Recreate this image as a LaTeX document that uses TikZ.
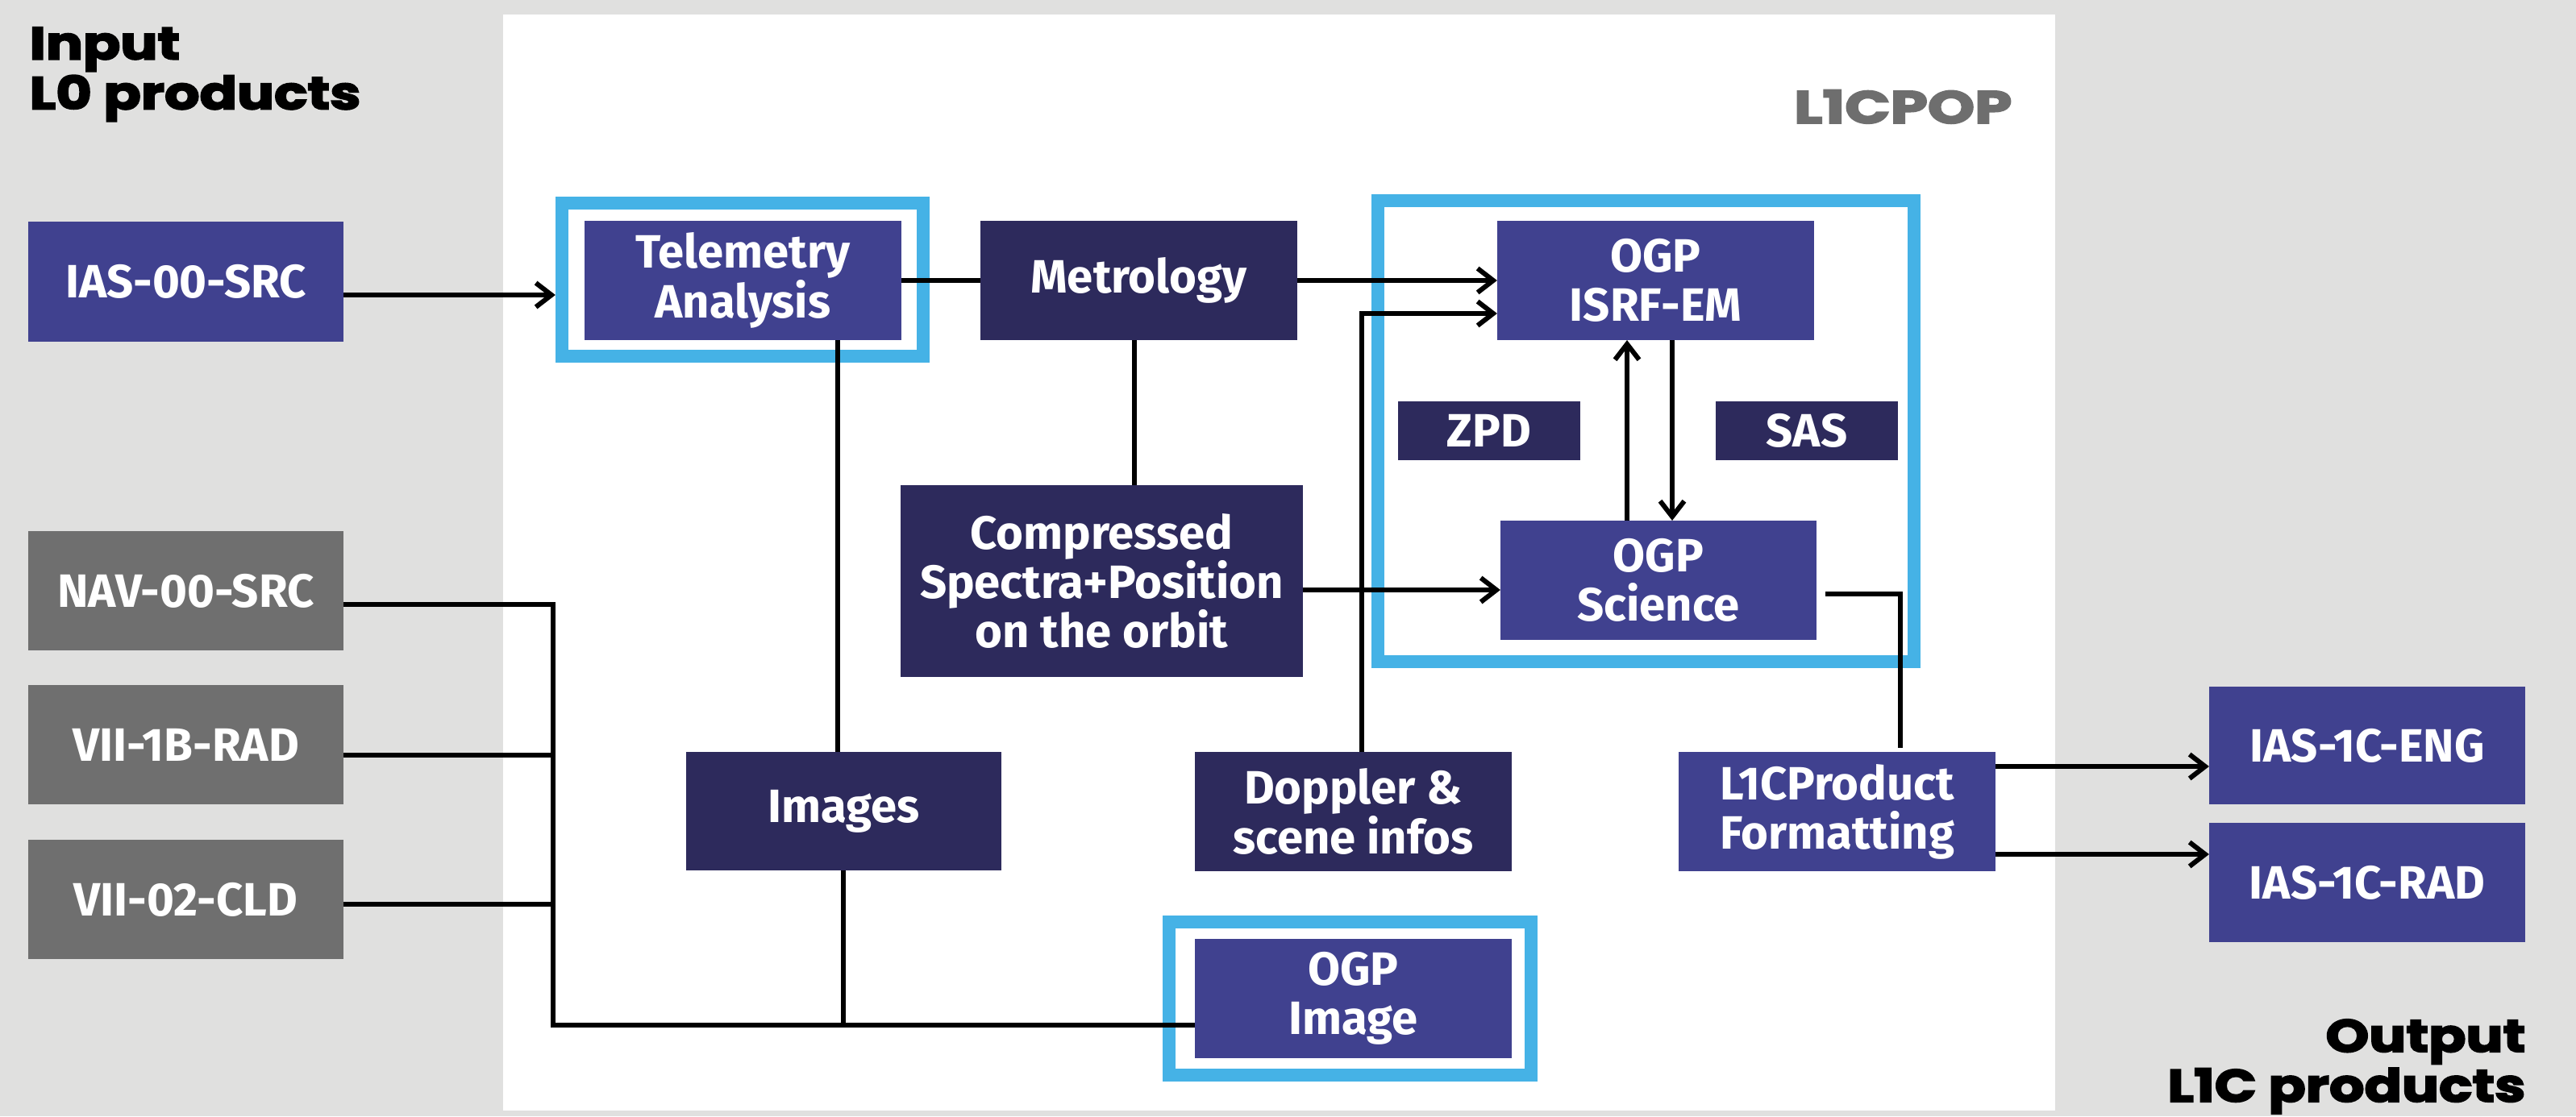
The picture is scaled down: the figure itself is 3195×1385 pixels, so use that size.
\documentclass[tikz,border=0pt]{standalone}
\usepackage{fontspec}
\setmainfont{Fira Sans}
\newfontfamily\headfont{Poppins}[BoldFeatures={FakeBold=3}]
\usetikzlibrary{arrows.meta}
\definecolor{bgg}{RGB}{224,224,223}
\definecolor{pur}{RGB}{64,65,143}
\definecolor{navy}{RGB}{45,42,92}
\definecolor{gbox}{RGB}{111,111,111}
\definecolor{cy}{RGB}{69,178,230}
\definecolor{ttl}{RGB}{110,110,110}
\tikzset{
  boxbase/.style={inner sep=0pt, outer sep=0pt, text=white, align=center,
    font=\fontsize{16.5}{17.4}\selectfont\bfseries},
  pbox/.style={boxbase, fill=pur},
  nbox/.style={boxbase, fill=navy},
  gbx/.style={boxbase, fill=gbox},
  frame/.style={draw=cy, line width=0.16cm, inner sep=0pt},
  conn/.style={line width=0.06cm, black},
  arr/.style={conn, -{Straight Barb[length=5.5pt,width=8.5pt]}},
  head/.style={inner sep=0pt, font=\headfont\fontsize{16.2}{17.6}\selectfont\bfseries},
}
\begin{document}
\begin{tikzpicture}[x=0.01cm, y=-0.01cm]
\fill[bgg] (0,0) rectangle (3195,1385);
\useasboundingbox (0,0) rectangle (3195,1385);
\fill[white] (624,18) rectangle (2549,1378);

% headings
\node[head, anchor=north west, align=left] (intitle) at (36,33) {\scalebox{1.2}[1]{Input}\\\scalebox{1.2}[1]{L0 products}};
\node[head, anchor=north east, align=right] (outtitle) at (3133,1264) {\scalebox{1.2}[1]{Output}\\\scalebox{1.2}[1]{L1C products}};
\node[head, anchor=base east, text=ttl] (l1cpop) at (2496,153) {\scalebox{1.3}[1]{L1CPOP}};

% frames
\node[frame, minimum width=4.48cm, minimum height=1.90cm] (telframe) at (921,347) {};
\node[frame, minimum width=6.65cm, minimum height=5.72cm] (bigframe) at (2041.5,535) {};
\node[frame, minimum width=4.49cm, minimum height=1.90cm] (imgframe) at (1674.5,1239) {};

% boxes
\node[pbox, minimum width=3.91cm, minimum height=1.49cm] (ias) at (230.5,349.5) {IAS-00-SRC};
\node[gbx, minimum width=3.91cm, minimum height=1.48cm] (nav) at (230.5,733) {NAV-00-SRC};
\node[gbx, minimum width=3.91cm, minimum height=1.48cm] (rad) at (230.5,924) {VII-1B-RAD};
\node[gbx, minimum width=3.91cm, minimum height=1.48cm] (cld) at (230.5,1116) {VII-02-CLD};
\node[pbox, minimum width=3.93cm, minimum height=1.48cm] (tele) at (921.5,348) {Telemetry\\Analysis};
\node[nbox, minimum width=3.93cm, minimum height=1.48cm] (metro) at (1412.5,348) {Metrology};
\node[pbox, minimum width=3.93cm, minimum height=1.48cm] (isrf) at (2053.5,348) {OGP\\ISRF-EM};
\node[nbox, minimum width=2.26cm, minimum height=0.73cm] (zpd) at (1847,534.5) {ZPD};
\node[nbox, minimum width=2.26cm, minimum height=0.73cm] (sas) at (2241,534.5) {SAS};
\node[pbox, minimum width=3.92cm, minimum height=1.48cm] (sci) at (2057,720) {OGP\\Science};
\node[nbox, minimum width=4.99cm, minimum height=2.38cm] (comp) at (1366.5,721) {Compressed\\Spectra+Position\\on the orbit};
\node[nbox, minimum width=3.91cm, minimum height=1.47cm] (images) at (1046.5,1006.5) {Images};
\node[nbox, minimum width=3.93cm, minimum height=1.48cm] (doppler) at (1678.5,1007) {Doppler \&\\scene infos};
\node[pbox, minimum width=3.93cm, minimum height=1.48cm] (l1c) at (2278.5,1007) {L1CProduct\\Formatting};
\node[pbox, minimum width=3.93cm, minimum height=1.48cm] (ogpimg) at (1678.5,1239) {OGP\\Image};
\node[pbox, minimum width=3.92cm, minimum height=1.46cm] (eng) at (2936,925) {IAS-1C-ENG};
\node[pbox, minimum width=3.92cm, minimum height=1.48cm] (radout) at (2936,1095) {IAS-1C-RAD};

% junction coordinates
\coordinate (busA) at (686,750);
\coordinate (busB) at (686,1272);
\coordinate (dopTurn) at (1689,389);
\coordinate (sciTurn) at (2357,737);

% connectors
\draw[arr] (ias.east |- 0,366) -- (telframe.west |- 0,366);
\draw[conn] (tele.east) -- (metro.west);
\draw[arr] (metro.east) -- (isrf.west);
\draw[conn] (metro.south -| 1407,0) -- (comp.north -| 1407,0);
\draw[conn] (tele.south -| 1039,0) -- (images.north -| 1039,0);
\draw[conn] (images.south -| 1046,0) -- (busB -| 1046,0);
\draw[conn] (nav.east |- busA) -- (busA) -- (busB) -- (ogpimg.west |- busB);
\draw[conn] (rad.east |- 0,937) -- (busA |- 0,937);
\draw[conn] (cld.east |- 0,1122) -- (busA |- 0,1122);
\draw[arr] (doppler.north -| dopTurn) -- (dopTurn) -- (isrf.west |- dopTurn);
\draw[arr] (comp.east |- 0,732) -- (sci.west |- 0,732);
\draw[arr] (sci.north -| 2018,0) -- (isrf.south -| 2018,0);
\draw[arr] (isrf.south -| 2074,0) -- (sci.north -| 2074,0);
\draw[conn] ([xshift=0.11cm]sci.east |- sciTurn) -- (sciTurn) -- ([yshift=0.05cm]l1c.north -| sciTurn);
\draw[arr] (l1c.east |- 0,951) -- (eng.west |- 0,951);
\draw[arr] (l1c.east |- 0,1060) -- (radout.west |- 0,1060);
\end{tikzpicture}
\end{document}
